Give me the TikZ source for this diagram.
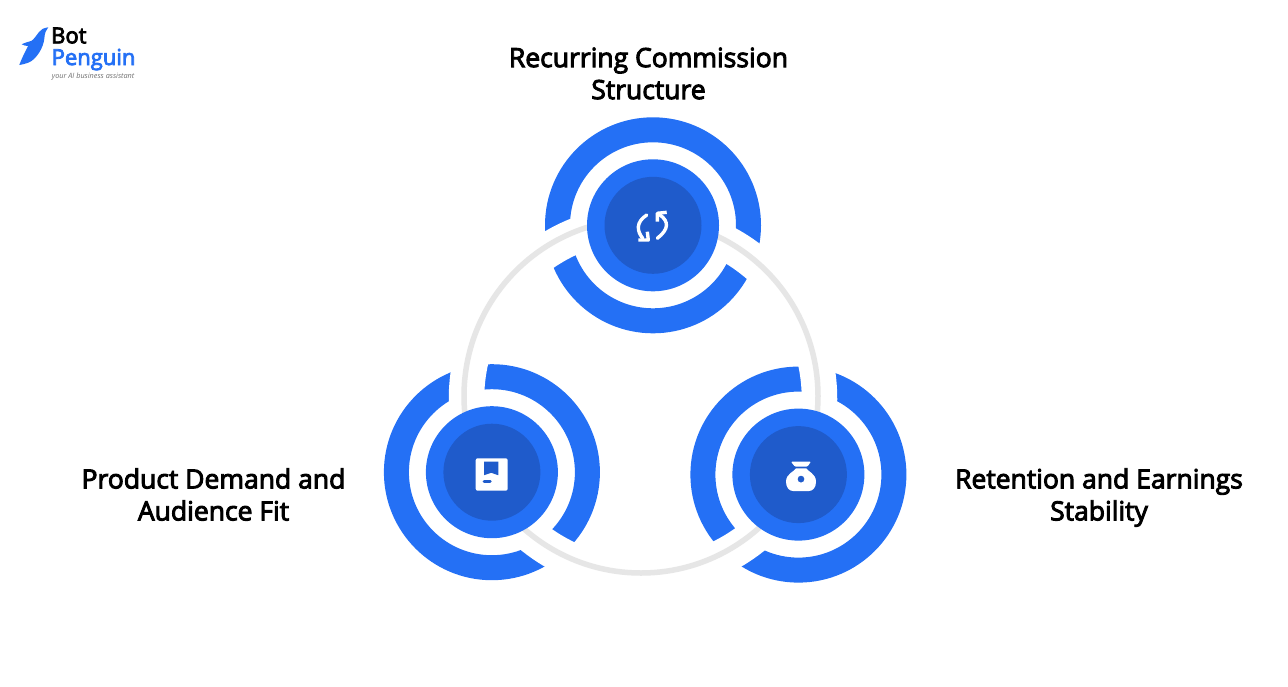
\documentclass[tikz,border=0pt]{standalone}
\usepackage{fontspec}
\setmainfont{Open Sans}[BoldFont={Open Sans},BoldFeatures={FakeBold=3.5}]
\usetikzlibrary{positioning}
\definecolor{ringblue}{HTML}{2470F5}
\definecolor{hubdark}{HTML}{1F5BCB}
\definecolor{trackgrey}{HTML}{E6E6E6}
\definecolor{taggrey}{HTML}{6F6F6F}
\tikzset{
	ring/.style={draw=ringblue, line width=25pt},
	gapband/.style={draw=white, line width=35.5pt},
	track/.style={draw=trackgrey, line width=5.5pt},
	hubouter/.style={circle, fill=ringblue, minimum size=132pt, inner sep=0pt},
	hubinner/.style={circle, fill=hubdark, minimum size=97pt, inner sep=0pt},
	caption/.style={align=center, font=\fontsize{26.5}{32}\selectfont\bfseries},
	iconline/.style={draw=white, line width=3.4pt, line join=round},
}
\begin{document}
\begin{tikzpicture}[x=1pt, y=-1pt]
\useasboundingbox (0,0) rectangle (1288,686);
% rings, cut by the band
\draw[ring] (653,225.3) circle (95.5);
\draw[ring] (491.9,472.2) circle (95.5);
\draw[ring] (798.4,474.6) circle (95.5);
\draw[gapband] (643,399) circle (176.5);
\draw[track] (641,396) circle (177);
\begin{scope}[shift={(653,225.3)}]
	\node[hubouter] (topouter) at (0,0) {};
	\node[hubinner] (topinner) at (0,0) {};
	\draw[iconline, line cap=round] (-6.3,-10.3) .. controls (-17.5,-3) and (-16,6) .. (-10.3,13);
	\draw[iconline, line cap=round] (4.3,13) .. controls (16,4) and (16,-4) .. (7,-10.3);
	\draw[iconline] (-14.7,14.7) -- (-4.7,14.7) -- (-5.7,6.4);
	\draw[iconline] (13.7,-13) -- (4.3,-12) -- (4.3,-3.6);
\end{scope}
\begin{scope}[shift={(491.9,472.2)}]
	\node[hubouter] (leftouter) at (0,0) {};
	\node[hubinner] (leftinner) at (0,0) {};
	\fill[white, rounded corners=2pt] (-16.2,-13.9) rectangle (15.8,18.5);
	\fill[hubdark] (-7.9,-10.5) -- (6.4,-10.5) -- (6.4,3) -- (-0.7,0.6) -- (-7.9,3) -- cycle;
	\fill[hubdark, rounded corners=1.3pt] (-9.2,7.8) rectangle (-0.2,10.6);
\end{scope}
\begin{scope}[shift={(798.4,474.6)}]
	\node[hubouter] (rightouter) at (0,0) {};
	\node[hubinner] (rightinner) at (0,0) {};
	\fill[white, rounded corners=1pt] (-7.4,-12.9) -- (12.6,-12.9) -- (8.9,-7.9) -- (-3.4,-7.9) -- cycle;
	\fill[white, even odd rule] (-2.4,-6.3) -- (7.9,-6.3)
		.. controls (9.5,-3) and (17.6,-1) .. (17.6,7) .. controls (17.6,13) and (14.5,16.4) .. (10.5,16.4)
		-- (-5.3,16.4) .. controls (-9.3,16.4) and (-12.4,13) .. (-12.4,7) .. controls (-12.4,-1) and (-4,-3) .. (-2.4,-6.3) -- cycle
		(2.6,4.5) circle (3.5);
\end{scope}
\node[caption] (topcap) at (648.5,73.5) {Recurring Commission\\Structure};
\node[caption] (leftcap) at (213.5,494.5) {Product Demand and\\Audience Fit};
\node[caption] (rightcap) at (1099,497.5) {Retention and Earnings\\Stability};
% logo
\fill[ringblue] (48.3,27.3) .. controls (44,28) and (41,29) .. (39,32) .. controls (36,36) and (34,39) .. (31.7,40.7)
	.. controls (28,42) and (24,43) .. (21.7,44.3) .. controls (24,45.5) and (26,46) .. (28,46)
	.. controls (25,52) and (21,60) .. (19.3,65) .. controls (26,64) and (31,62) .. (34,59)
	.. controls (40,53) and (44,45) .. (44.5,37) .. controls (44.8,33) and (46,30) .. (48.3,27.3) -- cycle;
\node[anchor=base west, inner sep=0pt, font=\fontsize{22}{22}\selectfont\bfseries] (logobot) at (51,43.3) {Bot};
\node[anchor=base west, inner sep=0pt, text=ringblue, font=\fontsize{22}{22}\selectfont\bfseries] (logopenguin) at (51.5,65) {Penguin};
\node[anchor=base west, inner sep=0pt, text=taggrey, font=\fontsize{7.3}{7.3}\selectfont\itshape] (logotag) at (51.7,78.5) {your AI business assistant};
\end{tikzpicture}
\end{document}
